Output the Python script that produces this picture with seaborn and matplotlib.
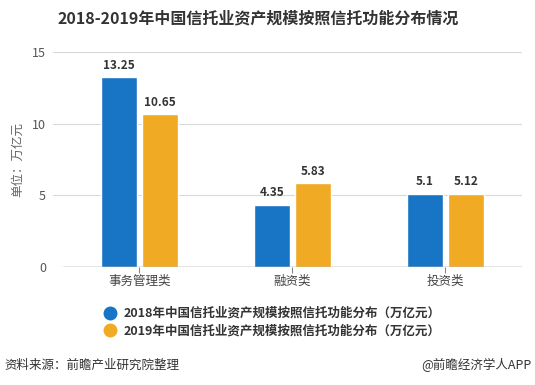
import matplotlib
matplotlib.use('Agg')
import matplotlib.pyplot as plt
import seaborn as sns
import pandas as pd
from matplotlib.lines import Line2D

# Data
categories = ['事务管理类', '融资类', '投资类']
values_2018 = [13.25, 4.35, 5.1]
values_2019 = [10.65, 5.83, 5.12]
series_names = ['2018年中国信托业资产规模按照信托功能分布（万亿元）',
                '2019年中国信托业资产规模按照信托功能分布（万亿元）']
value_labels_2018 = ['13.25', '4.35', '5.1']
value_labels_2019 = ['10.65', '5.83', '5.12']
yticks = [0, 5, 10, 15]

colors = ['#1874C4', '#F0AA23']

df = pd.DataFrame({
    'category': categories * 2,
    'value': values_2018 + values_2019,
    'series': [series_names[0]] * 3 + [series_names[1]] * 3,
    'label': value_labels_2018 + value_labels_2019,
})

sns.set_style('white')
plt.rcParams['font.family'] = ['Noto Sans CJK SC', 'DejaVu Sans']

fig = plt.figure(figsize=(5.35, 3.85), dpi=100)
ax = fig.add_axes([53 / 535, 1 - 267 / 385, (522 - 53) / 535, (267 - 52) / 385])

sns.barplot(data=df, x='category', y='value', hue='series', order=categories,
            hue_order=series_names, palette=colors, width=0.535, gap=0.12,
            saturation=1, legend=False, ax=ax)

# value labels
for cont, labs in zip(ax.containers, [value_labels_2018, value_labels_2019]):
    ax.bar_label(cont, labels=labs, padding=4, fontsize=8.5, fontweight='bold',
                 color='#333333')

ax.set_xlim(-0.565, 2.5)
ax.set_ylim(0, 15)
ax.set_yticks(yticks)
ax.yaxis.grid(True, color='#d9d9d9', linewidth=0.8)
ax.set_axisbelow(True)
for s in ['top', 'right', 'left', 'bottom']:
    ax.spines[s].set_visible(False)
ax.axhline(0, xmin=(0.065) / 3.065, xmax=1, color='#888888', linewidth=1, zorder=3)
ax.tick_params(axis='y', length=0, labelsize=9, labelcolor='#555555', pad=5)
ax.tick_params(axis='x', length=4, bottom=True, color='#888888', labelsize=9,
               labelcolor='#444444', pad=2)
ax.set_xlabel('')
ax.set_ylabel('单位：万亿元', fontsize=9, color='#666666', labelpad=6)

fig.text(258 / 535, 1 - 18 / 385, '2018-2019年中国信托业资产规模按照信托功能分布情况',
         ha='center', va='center', fontsize=11.5, fontweight='bold', color='#333333')

handles = [Line2D([], [], marker='o', linestyle='', markersize=9,
                  markerfacecolor=c, markeredgecolor=c) for c in colors]
fig.legend(handles, series_names, loc='upper left',
           bbox_to_anchor=(92 / 535, 1 - 302 / 385), frameon=False,
           handletextpad=0.1, labelspacing=0.35, borderaxespad=0,
           prop={'size': 9, 'weight': 'bold'}, labelcolor='#333333')

fig.text(4 / 535, 1 - 365 / 385, '资料来源：前瞻产业研究院整理', ha='left', va='center',
         fontsize=9, color='#333333')
fig.text(531 / 535, 1 - 365 / 385, '@前瞻经济学人APP', ha='right', va='center',
         fontsize=9, color='#333333')

fig.savefig('out.png', dpi=100)
